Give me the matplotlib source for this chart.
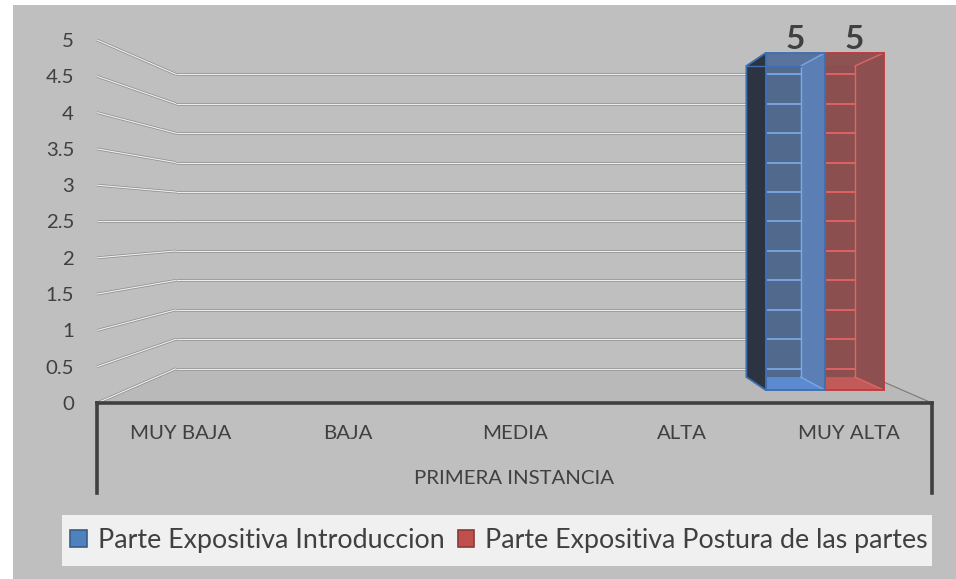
import matplotlib
matplotlib.use("Agg")
import matplotlib.pyplot as plt
from matplotlib.patches import Polygon, Rectangle, Patch

plt.rcParams['font.family'] = ['Lato', 'DejaVu Sans']

# ---------------- data ----------------
categories = ['MUY BAJA', 'BAJA', 'MEDIA', 'ALTA', 'MUY ALTA']
group_label = 'PRIMERA INSTANCIA'
series_names = ['Parte Expositiva Introduccion', 'Parte Expositiva Postura de las partes']
intro_values = [0, 0, 0, 0, 5]
postura_values = [0, 0, 0, 0, 5]
y_ticks = [0, 0.5, 1, 1.5, 2, 2.5, 3, 3.5, 4, 4.5, 5]
y_tick_labels = ['0', '0.5', '1', '1.5', '2', '2.5', '3', '3.5', '4', '4.5', '5']

# ---------------- styles ----------------
series_values = [intro_values, postura_values]
styles = [
    dict(front='#51698d', right='#5b7fb5', bottom='#5b8ad0', top='#58739e',
         left='#2b3440', edge='#3f6fb0', inner='#7aa8e6', legend='#4f81bd', legend_edge='#385d8a'),
    dict(front='#8b4f50', right='#8d4f4f', bottom='#c25a5a', top='#8f5253',
         left='#5a2f30', edge='#c0393b', inner='#e46464', legend='#c0504d', legend_edge='#8c3836'),
]
TXT = '#404040'
BG = '#bfbfbf'

# perspective parameters (vanishing point in front-plane data units)
VX, VY = 2.0, 2.5
S_WALL = 0.811
S_FRONT, S_BACK = 0.93, 0.857
BAR_W = 0.38


def P(x, y, s):
    return (VX + s * (x - VX), VY + s * (y - VY))


W, H = 956, 579
fig = plt.figure(figsize=(W / 100, H / 100), dpi=100)
fig.patch.set_facecolor('white')
fig.patches.append(Rectangle((13 / W, 0), 1 - 13 / W, 1 - 5 / H, transform=fig.transFigure,
                             facecolor=BG, edgecolor='none', zorder=-2))
# legend box
fig.patches.append(Rectangle((62 / W, 13 / H), 870 / W, 51 / H, transform=fig.transFigure,
                             facecolor='#f0f0f0', edgecolor='none', zorder=-1))

ax = fig.add_axes([97 / W, 176 / H, 835 / W, 363 / H])
ax.set_zorder(2)
ax.set_facecolor('none')
ax.set_xlim(-0.5, len(categories) - 0.5)
ax.set_ylim(0, 5)
for sp in ax.spines.values():
    sp.set_visible(False)

x0, x1 = -0.5, len(categories) - 0.5

# floor
floor = Polygon([P(x0, 0, 1), P(x1, 0, 1), P(x1, 0, S_WALL), P(x0, 0, S_WALL)], closed=True,
                facecolor='#b9b9b9', edgecolor='none', zorder=1, clip_on=False)
ax.add_patch(floor)
ax.plot(*zip(P(x1, 0, S_WALL), P(x1, 0, 1)), color='#7a7a7a', lw=0.8, zorder=1.5, clip_on=False)

# gridlines: side wall + back wall
for v in y_ticks:
    pa, pb = P(x0, v, 1), P(x0, v, S_WALL)
    pc = P(x1, v, S_WALL)
    for (p, q) in [(pa, pb), (pb, pc)]:
        ax.plot([p[0], q[0]], [p[1], q[1]], color='#8a8a8a', lw=1.9, zorder=2,
                solid_capstyle='butt', clip_on=False)
        ax.plot([p[0], q[0]], [p[1], q[1]], color='#ececec', lw=0.9, zorder=2.1,
                solid_capstyle='butt', clip_on=False)

# bars (draw the later series first so the first series sits on top)
n = len(series_values)
for i in reversed(range(n)):
    st = styles[i]
    for c, v in enumerate(series_values[i]):
        if v <= 0:
            continue
        a = c - BAR_W * n / 2 + i * BAR_W
        b = a + BAR_W
        F = lambda x, y: P(x, y, S_FRONT)
        B = lambda x, y: P(x, y, S_BACK)
        z = 3 + (1 - i)
        front = [F(a, 0), F(b, 0), F(b, v), F(a, v)]
        right = [F(b, 0), F(b, v), B(b, v), B(b, 0)]
        bottom = [F(a, 0), F(b, 0), B(b, 0), B(a, 0)]
        top = [F(a, v), F(b, v), B(b, v), B(a, v)]
        left = [F(a, 0), F(a, v), B(a, v), B(a, 0)]
        ax.add_patch(Polygon(front, closed=True, facecolor=st['front'], edgecolor='none', zorder=z, clip_on=False))
        if i == 1:
            # clip top face to the front face span
            top = [F(a, v), F(b, v), B(b, v), (F(a, v)[0], B(b, v)[1])]
        ax.add_patch(Polygon(top, closed=True, facecolor=st['top'], edgecolor='none', zorder=z + 0.05, clip_on=False))
        ax.add_patch(Polygon(right, closed=True, facecolor=st['right'], edgecolor='none', zorder=z + 0.1, clip_on=False))
        bot = bottom if i == 0 else [F(a, 0), F(b, 0), B(b, 0), (F(a, 0)[0], B(b, 0)[1])]
        ax.add_patch(Polygon(bot, closed=True, facecolor=st['bottom'], edgecolor='none', zorder=z + 0.15, clip_on=False))
        if i == 0:
            ax.add_patch(Polygon(left, closed=True, facecolor=st['left'], edgecolor='none', zorder=z + 0.2, clip_on=False))
        # back wall gridlines seen through the bar
        for t in y_ticks:
            yy = P(0, t, S_WALL)[1]
            if yy > B(b, v)[1] or yy < B(b, 0)[1]:
                continue
            ax.plot([F(a, 0)[0], B(b, 0)[0]], [yy, yy], color=st['inner'], lw=1.3, zorder=z + 0.3,
                    solid_capstyle='butt', clip_on=False)
        # inner edges
        ax.plot(*zip(B(b, 0), B(b, v)), color=st['inner'], lw=1.0, zorder=z + 0.35, clip_on=False)
        ax.plot(*zip(B(b, v), F(b, v)), color=st['inner'], lw=1.0, zorder=z + 0.35, clip_on=False)
        ax.plot(*zip(B(b, 0), F(b, 0)), color=st['inner'], lw=1.0, zorder=z + 0.35, clip_on=False)
        # outer edges
        ax.add_patch(Polygon(front, closed=True, facecolor='none', edgecolor=st['edge'], lw=1.3,
                             zorder=z + 0.4, clip_on=False))
        if i == 0:
            ax.add_patch(Polygon(left, closed=True, facecolor='none', edgecolor=st['edge'], lw=1.3,
                                 zorder=z + 0.4, clip_on=False))
            ax.plot(*zip(B(a, v), B(b, v)), color=st['edge'], lw=1.0, zorder=z + 0.4, clip_on=False)
        # data label
        cx, cy = F((a + b) / 2, v)
        ax.annotate(f'{v:g}', (cx, cy), xytext=(0, -1), textcoords='offset points',
                    ha='center', va='bottom', fontsize=24, fontweight='bold', color=TXT, zorder=9,
                    annotation_clip=False)

# category axis box
ax.plot([x0, x1], [0, 0], color=TXT, lw=2.6, zorder=6, solid_capstyle='projecting', clip_on=False)
xt = ax.get_xaxis_transform()
for xx in (x0, x1):
    ax.plot([xx, xx], [0, -0.248], color=TXT, lw=2.6, transform=xt, zorder=6, clip_on=False)
ax.text((x0 + x1) / 2, -0.209, group_label, transform=xt, ha='center', va='center',
        fontsize=14.7, color=TXT)

ax.set_xticks(range(len(categories)))
ax.set_xticklabels(categories, fontsize=14.7, color=TXT)
ax.tick_params(axis='x', length=0, pad=15.5)
ax.set_yticks(y_ticks)
ax.set_yticklabels(y_tick_labels, fontsize=14.7, color=TXT)
ax.tick_params(axis='y', length=0, pad=16.5)

# legend
handles = [Patch(facecolor=styles[i]['legend'], edgecolor=styles[i]['legend_edge'], lw=1.2)
           for i in range(n)]
leg = fig.legend(handles, series_names, loc='center', bbox_to_anchor=(499 / W, 38.5 / H),
                 ncol=2, frameon=False, fontsize=19.3, handlelength=0.62, handleheight=0.62,
                 handletextpad=0.4, columnspacing=0.5, borderaxespad=0)
for t in leg.get_texts():
    t.set_color(TXT)

fig.savefig('out.png', dpi=100, facecolor=fig.get_facecolor())
